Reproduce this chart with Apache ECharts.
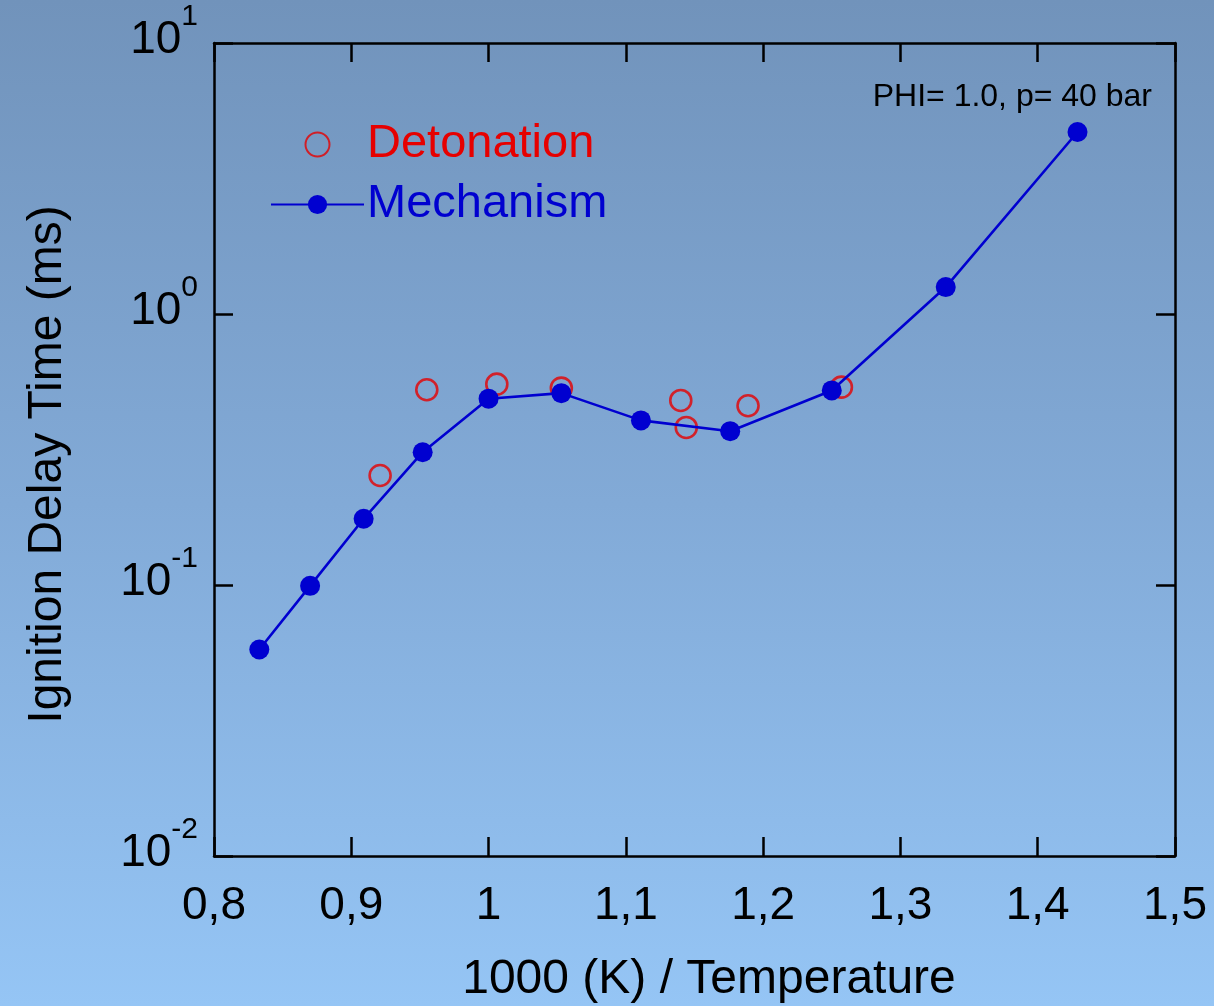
<!DOCTYPE html>
<html>
<head>
<meta charset="utf-8">
<script src="https://cdn.jsdelivr.net/npm/echarts@6/dist/echarts.min.js"></script>
<style>
  html, body { margin: 0; padding: 0; }
  body { background: linear-gradient(to bottom, #7193bb 0%, #82aad7 50%, #95c5f5 100%); }
  #chart { width: 1214px; height: 1006px; }
</style>
</head>
<body>
<div id="chart"></div>
<script>
// 1000/T values (1/K) and ignition delay times (ms)
const mechX = [0.833, 0.870, 0.909, 0.952, 1.000, 1.053, 1.111, 1.176, 1.250, 1.333, 1.429];
const mechY = [0.0578, 0.0993, 0.1755, 0.309, 0.487, 0.5105, 0.405, 0.3695, 0.5224, 1.257, 4.694];

const detX = [0.921, 0.955, 1.006, 1.053, 1.140, 1.144, 1.189, 1.257];
const detY = [0.2536, 0.5254, 0.551, 0.5327, 0.4798, 0.3814, 0.4586, 0.5372];

const xTicks = ['0,8', '0,9', '1', '1,1', '1,2', '1,3', '1,4', '1,5'];
const yExponents = ['-2', '-1', '0', '1'];

const FONT = '"Liberation Sans", Arial, Helvetica, sans-serif';
const AXIS_COLOR = '#000';
const RED = '#e60000';
const BLUE = '#0000d0';

const chart = echarts.init(document.getElementById('chart'), null, { renderer: 'canvas' });

const pairs = (xs, ys) => xs.map((x, i) => [x, ys[i]]);

const tickCommon = { show: true, inside: true, length: 19, lineStyle: { color: AXIS_COLOR, width: 2.5 } };
const lineCommon = { show: true, onZero: false, lineStyle: { color: AXIS_COLOR, width: 2.5 } };

const option = {
  backgroundColor: 'transparent',
  animation: false,
  grid: { left: 214, right: 39, top: 43, bottom: 150, containLabel: false, outerBoundsMode: 'none' },
  legend: {
    orient: 'vertical',
    left: 265,
    top: 116,
    itemWidth: 93,
    itemHeight: 24,
    itemGap: 13,
    textStyle: { fontFamily: FONT, fontSize: 47, padding: [0, 0, 0, -2] },
    data: [
      { name: 'Detonation', textStyle: { color: RED } },
      { name: 'Mechanism', textStyle: { color: BLUE } }
    ]
  },
  graphic: [{
    type: 'text',
    right: 62,
    top: 81,
    style: { text: 'PHI= 1.0, p= 40 bar', font: '32px ' + FONT, fill: '#000' }
  }],
  xAxis: [{
    type: 'value',
    position: 'bottom',
    min: 0.8, max: 1.5, interval: 0.1,
    axisLine: lineCommon,
    axisTick: tickCommon,
    splitLine: { show: false },
    axisLabel: {
      margin: 27,
      fontFamily: FONT, fontSize: 46, color: '#000',
      formatter: (v) => xTicks[Math.round((v - 0.8) * 10)]
    },
    name: '1000 (K) / Temperature',
    nameLocation: 'middle',
    nameGap: 100,
    nameTextStyle: { fontFamily: FONT, fontSize: 48, color: '#000', padding: [0, 0, 0, 29] }
  }, {
    type: 'value',
    position: 'top',
    min: 0.8, max: 1.5, interval: 0.1,
    axisLine: lineCommon,
    axisTick: tickCommon,
    axisLabel: { show: false },
    splitLine: { show: false }
  }],
  yAxis: [{
    type: 'log',
    logBase: 10,
    position: 'left',
    min: 0.01, max: 10,
    axisLine: lineCommon,
    axisTick: tickCommon,
    minorTick: { show: false },
    splitLine: { show: false },
    axisLabel: {
      margin: 16,
      color: '#000',
      padding: [0, 0, 6, 0],
      formatter: (v) => '{b|10}{s|' + yExponents[Math.round(Math.log10(v)) + 2] + '}',
      rich: {
        b: { fontFamily: FONT, fontSize: 46, lineHeight: 77, color: '#000' },
        s: { fontFamily: FONT, fontSize: 30, lineHeight: 10, color: '#000', verticalAlign: 'top' }
      }
    },
    name: 'Ignition Delay Time (ms)',
    nameLocation: 'middle',
    nameGap: 142,
    nameRotate: 90,
    nameTextStyle: { fontFamily: FONT, fontSize: 48, color: '#000', padding: [0, 30, 0, 0] }
  }, {
    type: 'log',
    logBase: 10,
    position: 'right',
    min: 0.01, max: 10,
    axisLine: lineCommon,
    axisTick: tickCommon,
    minorTick: { show: false },
    axisLabel: { show: false },
    splitLine: { show: false }
  }],
  series: [{
    name: 'Detonation',
    type: 'scatter',
    xAxisIndex: 0, yAxisIndex: 0,
    symbol: 'circle',
    symbolSize: 21,
    itemStyle: { color: 'rgba(0,0,0,0)', borderColor: RED, borderWidth: 2.6 },
    z: 3,
    data: pairs(detX, detY)
  }, {
    name: 'Mechanism',
    type: 'line',
    xAxisIndex: 0, yAxisIndex: 0,
    symbol: 'circle',
    symbolSize: 20,
    showAllSymbol: true,
    lineStyle: { color: BLUE, width: 2.6 },
    itemStyle: { color: BLUE, borderColor: BLUE, borderWidth: 0 },
    z: 4,
    data: pairs(mechX, mechY)
  }]
};

chart.setOption(option);
</script>
</body>
</html>
